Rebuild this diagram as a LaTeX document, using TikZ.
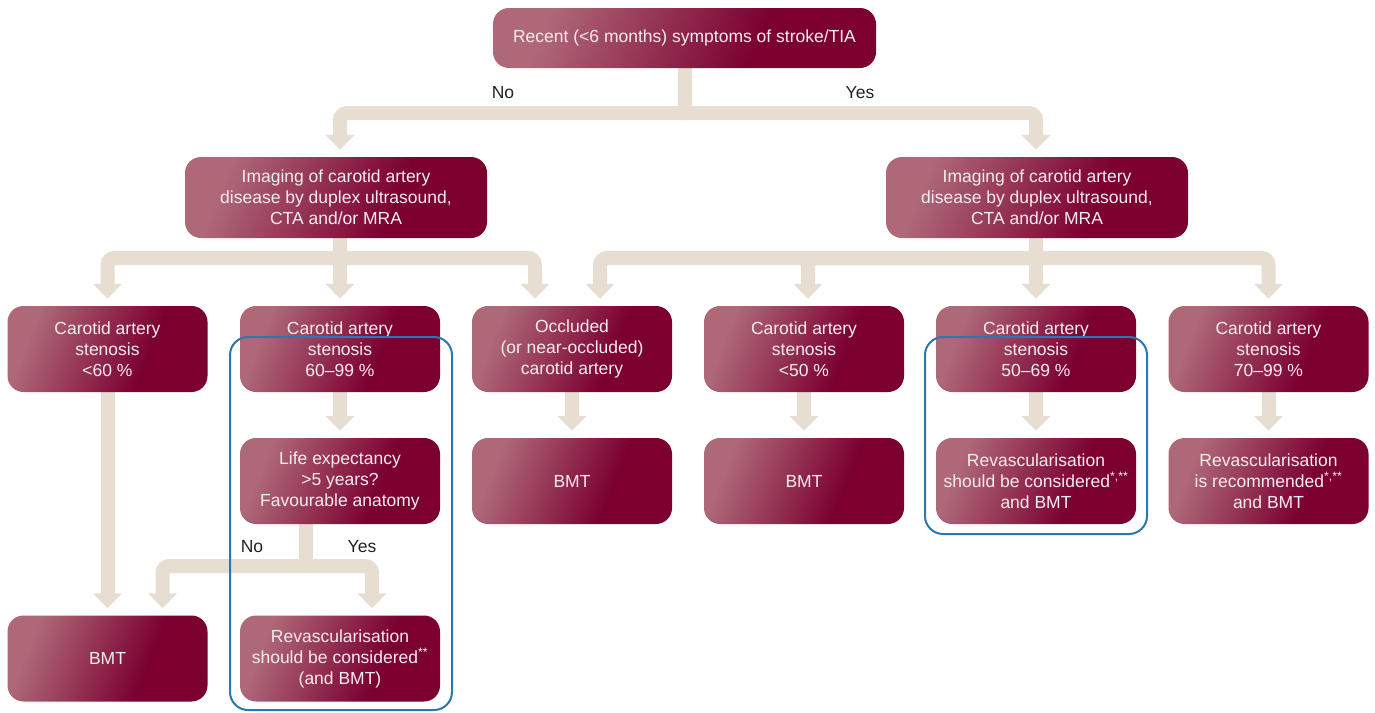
\documentclass[tikz,border=0pt]{standalone}
\usepackage{fontspec}
\setmainfont{Liberation Sans}
\usetikzlibrary{arrows.meta,backgrounds}
\definecolor{boxlight}{HTML}{AE6878}
\definecolor{boxdark}{HTML}{7B0030}
\definecolor{conncol}{HTML}{E7DDD1}
\definecolor{framecol}{HTML}{2A78AE}
\definecolor{txtcol}{HTML}{F6ECEF}
\definecolor{labcol}{HTML}{222222}
\pgfdeclarehorizontalshading{boxshade}{100bp}{color(0bp)=(boxlight); color(27bp)=(boxlight); color(62bp)=(boxdark); color(100bp)=(boxdark)}
\begin{document}
\begin{tikzpicture}[x=1pt,y=-1pt,
  box/.style={rounded corners=16pt, shading=boxshade, shading angle=-22, text=txtcol, align=center, inner sep=0pt, font=\fontsize{17.5}{21}\selectfont},
  topsize/.style={minimum width=383pt, minimum height=60pt},
  secsize/.style={minimum width=302pt, minimum height=81pt},
  stdsize/.style={minimum width=200pt, minimum height=86pt},
  conn/.style={draw=conncol, line width=14pt, rounded corners=7pt},
  arr/.style={conn, -{Triangle[width=28pt,length=15pt]}, shorten >=7pt},
  lab/.style={text=labcol, font=\fontsize{17.5}{21}\selectfont},
  frame/.style={draw=framecol, line width=2pt, rounded corners=18pt}]
\useasboundingbox (0,0) rectangle (1375,712);
\coordinate (j1) at (685,113);
\coordinate (j2) at (340,258);
\coordinate (j3) at (1036,258);
\coordinate (j4) at (306,566);
% nodes
\node[box,topsize] (top) at (684.5,38) {Recent (<6 months) symptoms of stroke/TIA};
\node[box,secsize] (L2a) at (336,197.5) {Imaging of carotid artery\\disease by duplex ultrasound,\\CTA and/or MRA};
\node[box,secsize] (L2b) at (1037,197.5) {Imaging of carotid artery\\disease by duplex ultrasound,\\CTA and/or MRA};
\node[box,stdsize] (A) at (107.5,349) {Carotid artery\\stenosis\\<60 \%};
\node[box,stdsize] (B) at (340,349) {Carotid artery\\stenosis\\60–99 \%};
\node[box,stdsize] (C) at (572,349) {Occluded\\(or near-occluded)\\carotid artery};
\node[box,stdsize] (D) at (804,349) {Carotid artery\\stenosis\\<50 \%};
\node[box,stdsize] (E) at (1036,349) {Carotid artery\\stenosis\\50–69 \%};
\node[box,stdsize] (F) at (1268.5,349) {Carotid artery\\stenosis\\70–99 \%};
\node[box,stdsize] (B2) at (340,481) {Life expectancy\\>5 years?\\Favourable anatomy};
\node[box,stdsize] (C2) at (572,481) {BMT};
\node[box,stdsize] (D2) at (804,481) {BMT};
\node[box,stdsize] (E2) at (1036,481) {Revascularisation\\should be considered\textsuperscript{*,**}\\and BMT};
\node[box,stdsize] (F2) at (1268.5,481) {Revascularisation\\is recommended\textsuperscript{*,**}\\and BMT};
\node[box,stdsize] (A5) at (107.5,658.5) {BMT};
\node[box,stdsize] (B5) at (340,658.5) {Revascularisation\\should be considered\textsuperscript{**}\\(and BMT)};
% connectors
\begin{scope}[on background layer]
\draw[conn] (top.south -| j1) -- (j1);
\draw[arr] (j1) -| ([xshift=4pt]L2a.north);
\draw[arr] (j1) -| ([xshift=-1pt]L2b.north);
\draw[conn] (L2a.south -| j2) -- (j2);
\draw[arr] (j2) -| (A.north);
\draw[arr] (j2) -- (B.north);
\draw[arr] (j2) -| ([xshift=-37pt]C.north);
\draw[conn] (L2b.south -| j3) -- (j3);
\draw[arr] (j3) -| ([xshift=28pt]C.north);
\draw[arr] (j3) -| ([xshift=4pt]D.north);
\draw[arr] (j3) -- (E.north);
\draw[arr] (j3) -| (F.north);
\draw[arr] (A.south) -- (A5.north);
\draw[arr] (B.south) -- (B2.north);
\draw[arr] (C.south) -- (C2.north);
\draw[arr] (D.south) -- (D2.north);
\draw[arr] (E.south) -- (E2.north);
\draw[arr] (F.south) -- (F2.north);
\draw[conn] (B2.south -| j4) -- (j4);
\draw[arr] (j4) -| ([xshift=55pt]A5.north);
\draw[arr] (j4) -| ([xshift=32pt]B5.north);
\end{scope}
% labels
\node[lab] (no1) at (503,93) {No};
\node[lab] (yes1) at (860,93) {Yes};
\node[lab] (no2) at (252,547) {No};
\node[lab] (yes2) at (362,547) {Yes};
% frames
\draw[frame] (230,337) rectangle (452,710);
\draw[frame] (925,337) rectangle (1147,534);
\end{tikzpicture}
\end{document}
